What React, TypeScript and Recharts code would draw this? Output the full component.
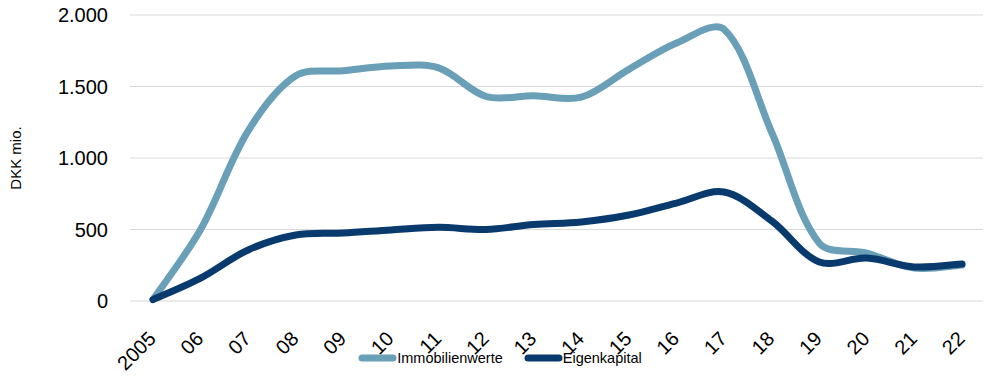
import React from 'react';
import { LineChart, Line, XAxis, YAxis, CartesianGrid, Legend } from 'recharts';

const years = ['2005', '06', '07', '08', '09', '10', '11', '12', '13', '14', '15', '16', '17', '18', '19', '20', '21', '22'];
const immobilienwerte = [10, 500, 1190, 1575, 1610, 1643, 1630, 1430, 1435, 1425, 1620, 1804, 1900, 1180, 405, 335, 230, 252];
const eigenkapital = [10, 160, 357, 462, 475, 497, 515, 500, 535, 553, 601, 685, 762, 560, 273, 300, 238, 259];
const yTicks = [0, 500, 1000, 1500, 2000];
const yTickLabels = ['0', '500', '1.000', '1.500', '2.000'];

const LIGHT = '#6A9FB8';
const DARK = '#083A6E';
const FONT = 'Arial, "Liberation Sans", sans-serif';

const data = years.map((y, i) => ({ year: y, immo: immobilienwerte[i], eigen: eigenkapital[i] }));

// Spreadsheet-style smoothed line: Catmull-Rom tangents scaled by chord lengths
function smoothCurve(context: any) {
  let pts: [number, number][] = [];
  return {
    areaStart() {},
    areaEnd() {},
    lineStart() {
      pts = [];
    },
    point(x: number, y: number) {
      pts.push([+x, +y]);
    },
    lineEnd() {
      const n = pts.length;
      if (n === 0) return;
      context.moveTo(pts[0][0], pts[0][1]);
      if (n === 1) return;
      const dist = (a: [number, number], b: [number, number]) => Math.hypot(b[0] - a[0], b[1] - a[1]);
      for (let i = 0; i < n - 1; i++) {
        const p0 = pts[Math.max(0, i - 1)];
        const p1 = pts[i];
        const p2 = pts[i + 1];
        const p3 = pts[Math.min(n - 1, i + 2)];
        const d01 = dist(p0, p1);
        const d12 = dist(p1, p2);
        const d23 = dist(p2, p3);
        const s1 = d01 + d12 > 0 ? d12 / (d01 + d12) / 3 : 0;
        const s2 = d12 + d23 > 0 ? d12 / (d12 + d23) / 3 : 0;
        const f1 = i === 0 ? 1 / 6 : s1;
        const f2 = i + 2 > n - 1 ? 1 / 6 : s2;
        const c1x = p1[0] + (p2[0] - p0[0]) * f1;
        const c1y = p1[1] + (p2[1] - p0[1]) * f1;
        const c2x = p2[0] - (p3[0] - p1[0]) * f2;
        const c2y = p2[1] - (p3[1] - p1[1]) * f2;
        context.bezierCurveTo(c1x, c1y, c2x, c2y, p2[0], p2[1]);
      }
    },
  };
}

const XTick = (props: any) => {
  const { x, y, payload } = props;
  return (
    <g transform={`translate(${x + 4},${y + 31})`}>
      <text x={0} y={0} textAnchor="end" transform="rotate(-45)" fontSize={20} fill="#000" fontFamily={FONT}>
        {payload.value}
      </text>
    </g>
  );
};

const YTick = (props: any) => {
  const { y, payload } = props;
  const idx = yTicks.indexOf(payload.value);
  return (
    <text x={108} y={y} dy="0.355em" textAnchor="end" fontSize={20} fill="#000" fontFamily={FONT}>
      {idx >= 0 ? yTickLabels[idx] : payload.value}
    </text>
  );
};

const LegendContent = () => {
  const items = [
    { name: 'Immobilienwerte', color: LIGHT },
    { name: 'Eigenkapital', color: DARK },
  ];
  return (
    <div style={{ width: 1000, display: 'flex', justifyContent: 'center', alignItems: 'center', fontFamily: FONT, fontSize: 14.5, color: '#000' }}>
      {items.map((it, i) => (
        <div key={it.name} style={{ display: 'flex', alignItems: 'center', marginLeft: i === 0 ? 0 : 21 }}>
          <svg width={39} height={10} style={{ display: 'block' }}>
            <line x1={4} y1={5} x2={35} y2={5} stroke={it.color} strokeWidth={7} strokeLinecap="round" />
          </svg>
          <span style={{ lineHeight: '20px' }}>{it.name}</span>
        </div>
      ))}
    </div>
  );
};

export default function App() {
  return (
    <div style={{ position: 'absolute', left: 0, top: 0, width: 1000, height: 376, background: '#fff' }}>
      <LineChart width={1000} height={376} data={data} margin={{ top: 15, right: 17, left: 0, bottom: 8 }}>
        <CartesianGrid vertical={false} stroke="#D9D9D9" strokeWidth={1} />
        <XAxis dataKey="year" axisLine={false} tickLine={false} tick={<XTick />} height={47} interval={0} padding={{ left: 23, right: 21 }} />
        <YAxis
          domain={[0, 2000]}
          ticks={yTicks}
          axisLine={false}
          tickLine={false}
          width={130}
          tick={<YTick />}
          label={{ value: 'DKK mio.', angle: -90, position: 'insideLeft', offset: 0, dx: 16, style: { fontSize: 15, fontFamily: FONT, fill: '#000', textAnchor: 'middle' } }}
        />
        <Legend verticalAlign="bottom" height={20} content={<LegendContent />} wrapperStyle={{ left: 0, width: 1000 }} />
        <Line type={smoothCurve as any} dataKey="immo" name="Immobilienwerte" stroke={LIGHT} strokeWidth={7} dot={false} activeDot={false} strokeLinecap="round" isAnimationActive={false} />
        <Line type={smoothCurve as any} dataKey="eigen" name="Eigenkapital" stroke={DARK} strokeWidth={7} dot={false} activeDot={false} strokeLinecap="round" isAnimationActive={false} />
      </LineChart>
    </div>
  );
}
